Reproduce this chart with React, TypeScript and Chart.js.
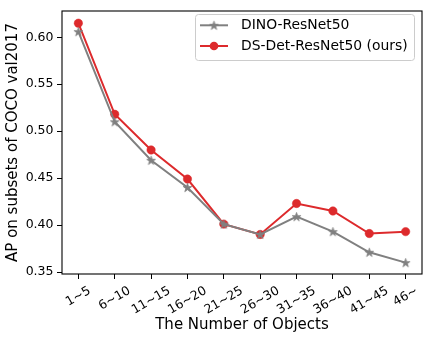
import React, { useEffect, useRef } from "react";
import { Chart, registerables } from "chart.js";

Chart.register(...registerables);

const categories = ["1~5", "6~10", "11~15", "16~20", "21~25", "26~30", "31~35", "36~40", "41~45", "46~"];
const dinoValues = [0.606, 0.510, 0.469, 0.440, 0.401, 0.390, 0.409, 0.393, 0.371, 0.360];
const dsDetValues = [0.615, 0.518, 0.480, 0.449, 0.401, 0.390, 0.423, 0.415, 0.391, 0.393];
const yTicks = [0.35, 0.40, 0.45, 0.50, 0.55, 0.60];
const seriesNames = ["DINO-ResNet50", "DS-Det-ResNet50 (ours)"];

const GRAY = "#808080";
const RED = "#dd2a2c";
const FONT = "'DejaVu Sans', sans-serif";

function makeStar(color: string, R: number): HTMLCanvasElement {
  const s = Math.ceil(R * 2 + 3);
  const c = document.createElement("canvas");
  c.width = s;
  c.height = s;
  const ctx = c.getContext("2d")!;
  const cx = s / 2;
  const cy = s / 2 + 0.4;
  ctx.beginPath();
  for (let i = 0; i < 10; i++) {
    const a = -Math.PI / 2 + (i * Math.PI) / 5;
    const r = i % 2 ? R * 0.382 : R;
    const x = cx + r * Math.cos(a);
    const y = cy + r * Math.sin(a);
    if (i === 0) ctx.moveTo(x, y);
    else ctx.lineTo(x, y);
  }
  ctx.closePath();
  ctx.fillStyle = color;
  ctx.fill();
  ctx.strokeStyle = color;
  ctx.lineWidth = 0.8;
  ctx.stroke();
  return c;
}

export default function App() {
  const ref = useRef<HTMLCanvasElement>(null);

  useEffect(() => {
    document.body.style.margin = "0";
    const star = makeStar(GRAY, 4.6);

    const overlay = {
      id: "overlay",
      afterDraw(chart: any) {
        const ctx = chart.ctx as CanvasRenderingContext2D;
        const area = chart.chartArea;
        const xs = chart.scales.x;
        ctx.save();
        // frame
        ctx.strokeStyle = "#000";
        ctx.lineWidth = 1.1;
        ctx.strokeRect(area.left, area.top, area.right - area.left, area.bottom - area.top);

        // rotated x tick labels (centered like matplotlib)
        ctx.font = `12.5px ${FONT}`;
        ctx.fillStyle = "#000";
        ctx.textAlign = "center";
        ctx.textBaseline = "middle";
        const top = area.bottom + 9.7;
        const h = 12.5 * 1.17;
        const ang = (30 * Math.PI) / 180;
        categories.forEach((lab, i) => {
          const w = ctx.measureText(lab).width;
          const bh = w * Math.sin(ang) + h * Math.cos(ang);
          const x = xs.getPixelForValue(i);
          const y = top + bh / 2;
          ctx.save();
          ctx.translate(x, y);
          ctx.rotate(-ang);
          ctx.fillText(lab, 0, 0);
          ctx.restore();
        });

        // legend
        const lx = 195, ly = 14, lw = 219, lh = 46;
        ctx.beginPath();
        (ctx as any).roundRect(lx + 0.5, ly + 0.5, lw, lh, 3);
        ctx.fillStyle = "rgba(255,255,255,0.8)";
        ctx.fill();
        ctx.strokeStyle = "#cccccc";
        ctx.lineWidth = 1;
        ctx.stroke();

        const rows = [
          { y: 25.3, color: GRAY, name: seriesNames[0], marker: "star" },
          { y: 46, color: RED, name: seriesNames[1], marker: "circle" },
        ];
        rows.forEach((r) => {
          ctx.strokeStyle = r.color;
          ctx.lineWidth = 2;
          ctx.beginPath();
          ctx.moveTo(200, r.y);
          ctx.lineTo(228, r.y);
          ctx.stroke();
          if (r.marker === "star") {
            ctx.drawImage(star, 214 - star.width / 2, r.y - star.height / 2);
          } else {
            ctx.fillStyle = r.color;
            ctx.beginPath();
            ctx.arc(214, r.y, 4.3, 0, Math.PI * 2);
            ctx.fill();
          }
          ctx.fillStyle = "#000";
          ctx.font = `13.9px ${FONT}`;
          ctx.textAlign = "left";
          ctx.textBaseline = "middle";
          ctx.fillText(r.name, 241, r.y + 0.5);
        });
        ctx.restore();
      },
    };

    const chart = new Chart(ref.current!, {
      type: "line",
      data: {
        datasets: [
          {
            label: seriesNames[0],
            data: dinoValues.map((v, i) => ({ x: i, y: v })),
            borderColor: GRAY,
            backgroundColor: GRAY,
            borderWidth: 2,
            pointStyle: star as any,
            pointRadius: 4.6,
            tension: 0,
          },
          {
            label: seriesNames[1],
            data: dsDetValues.map((v, i) => ({ x: i, y: v })),
            borderColor: RED,
            backgroundColor: RED,
            borderWidth: 2,
            pointStyle: "circle",
            pointRadius: 4.2,
            pointBorderWidth: 0.5,
            tension: 0,
          },
        ],
      },
      plugins: [overlay],
      options: {
        responsive: false,
        animation: false,
        layout: { padding: { top: 7, right: 7, left: 0, bottom: 0 } },
        plugins: { legend: { display: false }, tooltip: { enabled: false } },
        scales: {
          x: {
            type: "linear",
            min: -0.45,
            max: 9.45,
            afterBuildTicks: (s: any) => {
              s.ticks = categories.map((_, i) => ({ value: i }));
            },
            afterFit: (s: any) => {
              s.height = 67;
            },
            ticks: { color: "rgba(0,0,0,0)", autoSkip: false, maxRotation: 0, minRotation: 0, font: { family: FONT, size: 12.5 } },
            grid: { drawOnChartArea: false, drawTicks: true, tickLength: 5, color: "#000", lineWidth: 1 },
            border: { display: false },
            title: {
              display: true,
              text: "The Number of Objects",
              color: "#000",
              font: { family: FONT, size: 15 },
              padding: { top: 0, bottom: 7 },
            },
          },
          y: {
            type: "linear",
            min: 0.3479,
            max: 0.628,
            afterBuildTicks: (s: any) => {
              s.ticks = yTicks.map((v) => ({ value: v }));
            },
            afterFit: (s: any) => {
              s.width = 62;
            },
            ticks: {
              color: "#000",
              padding: 3.5,
              font: { family: FONT, size: 12.5 },
              callback: (v: any) => Number(v).toFixed(2),
            },
            grid: { drawOnChartArea: false, drawTicks: true, tickLength: 5, color: "#000", lineWidth: 1 },
            border: { display: false },
            title: {
              display: true,
              text: "AP on subsets of COCO val2017",
              color: "#000",
              font: { family: FONT, size: 15 },
              padding: { top: 4, bottom: 0 },
            },
          },
        },
      },
    } as any);
    return () => chart.destroy();
  }, []);

  return (
    <div style={{ width: 429, height: 341 }}>
      <canvas ref={ref} width={429} height={341} style={{ display: "block" }} />
    </div>
  );
}
